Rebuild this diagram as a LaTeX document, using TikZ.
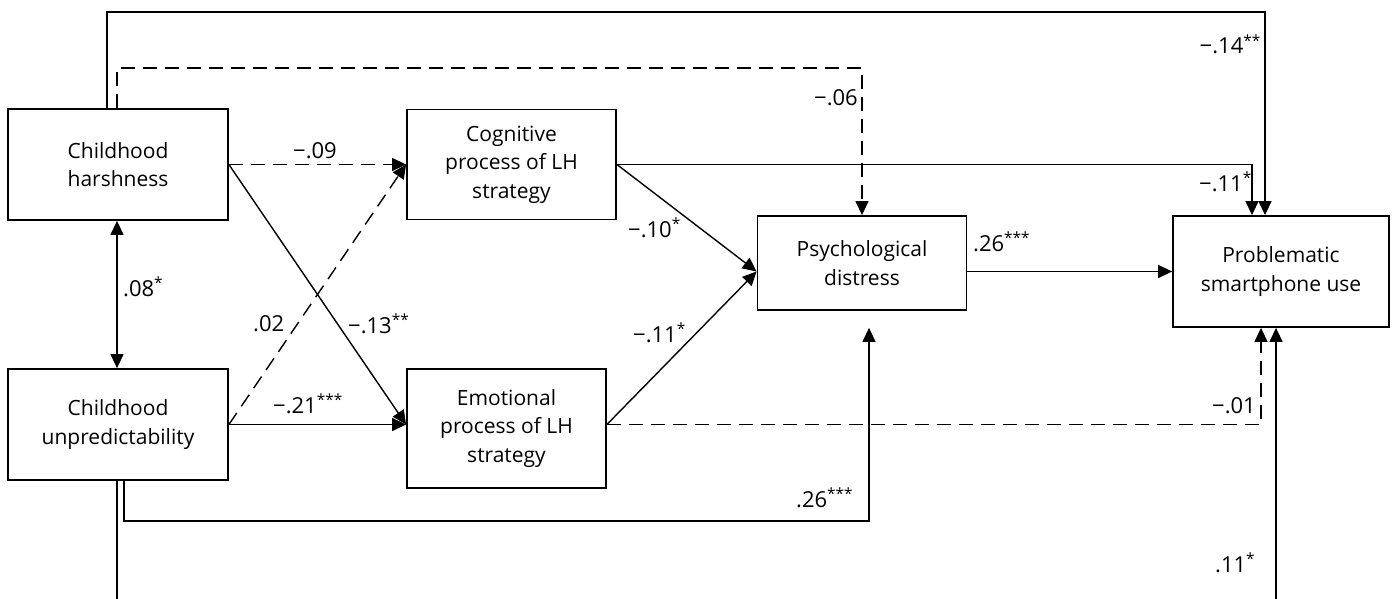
\documentclass[tikz,border=0pt]{standalone}
\usepackage{fontspec}
\setmainfont{Open Sans}
\usetikzlibrary{arrows.meta}
\newcommand\stars[1]{\textsuperscript{#1}}
\begin{document}
\begin{tikzpicture}[x=1pt,y=-1pt,
  box/.style={draw, line width=1.8pt, align=center, inner sep=0pt, font=\fontsize{21}{28.5}\selectfont},
  lab/.style={font=\fontsize{22}{26}\selectfont, inner sep=0pt},
  arr/.style={line width=1.4pt, -{Triangle[length=14pt,width=13pt]}},
  dsh/.style={arr, dash pattern=on 14pt off 8pt},
  both/.style={line width=1.4pt, {Triangle[length=14pt,width=13pt]}-{Triangle[length=14pt,width=13pt]}}]
\useasboundingbox (0,0) rectangle (1394,599);

% boxes
\node[box, minimum width=220pt, minimum height=111pt] (harsh) at (118,164.5) {Childhood\\harshness};
\node[box, minimum width=209pt, minimum height=110pt] (cog) at (511.5,164.5) {Cognitive\\process of LH\\strategy};
\node[box, minimum width=220pt, minimum height=111pt] (unpred) at (118,424.5) {Childhood\\unpredictability};
\node[box, minimum width=199pt, minimum height=119pt] (emo) at (506.5,428.5) {Emotional\\process of LH\\strategy};
\node[box, minimum width=209pt, minimum height=94pt] (psych) at (862,263) {Psychological\\distress};
\node[box, minimum width=216pt, minimum height=111pt] (prob) at (1281,271.5) {Problematic\\smartphone use};

% helper coordinates
\coordinate (t1) at (107,12);
\coordinate (t2) at (1265,12);
\coordinate (d1) at (117,68);
\coordinate (d2) at (862,68);
\coordinate (c1) at (1252,164.5);
\coordinate (e1) at (1261,424.5);
\coordinate (b1) at (124,521);
\coordinate (b2) at (869,521);
\coordinate (pd) at ([yshift=-17pt]psych.south);
\coordinate (f1) at (117,603);
\coordinate (f2) at (1276,603);
\coordinate (ein) at (unpred.east -| emo.west);
\coordinate (eout) at (unpred.east -| emo.east);
\coordinate (pin) at (prob.west -| psych.west);

% connectors
\draw[arr] (harsh.north -| t1) -- (t1) -- (t2) -- (t2 |- prob.north);
\draw[dsh] (harsh.north -| d1) -- (d1) -- (d2) -- (psych.north);
\draw[arr] (cog.east) -- (c1) -- (c1 |- prob.north);
\draw[dsh] (harsh.east) -- (cog.west);
\draw[arr] (harsh.east) -- (ein);
\draw[dsh] (unpred.east) -- (cog.west);
\draw[arr] (unpred.east) -- (ein);
\draw[both] (harsh.south -| d1) -- (unpred.north -| d1);
\draw[arr] (cog.east) -- (pin);
\draw[arr] (eout) -- (pin);
\draw[arr] (prob.west -| psych.east) -- (prob.west);
\draw[dsh] (eout) -- (e1) -- (e1 |- prob.south);
\draw[arr] (unpred.south -| b1) -- (b1) -- (b2) -- (pd -| b2);
\draw[arr] (unpred.south -| f1) -- (f1) -- (f2) -- (f2 |- prob.south);

% labels
\node[lab, anchor=base east] (l1) at (1261,54) {−.14\stars{**}};
\node[lab, anchor=base east] (l2) at (858,106) {−.06};
\node[lab, anchor=base east] (l3) at (1252,191) {−.11\stars{*}};
\node[lab, anchor=base west] (l4) at (973,251) {.26\stars{***}};
\node[lab, anchor=base west] (l5) at (293,158) {−.09};
\node[lab, anchor=base west] (l6) at (628,237) {−.10\stars{*}};
\node[lab, anchor=base west] (l7) at (123,296) {.08\stars{*}};
\node[lab, anchor=base west] (l8) at (253,331) {.02};
\node[lab, anchor=base west] (l9) at (348,333) {−.13\stars{**}};
\node[lab, anchor=base west] (l10) at (633,342) {−.11\stars{*}};
\node[lab, anchor=base west] (l11) at (273,413) {−.21\stars{***}};
\node[lab, anchor=base east] (l12) at (1256,413) {−.01};
\node[lab, anchor=base west] (l13) at (796,507) {.26\stars{***}};
\node[lab, anchor=base west] (l14) at (1215,572) {.11\stars{*}};
\end{tikzpicture}
\end{document}
